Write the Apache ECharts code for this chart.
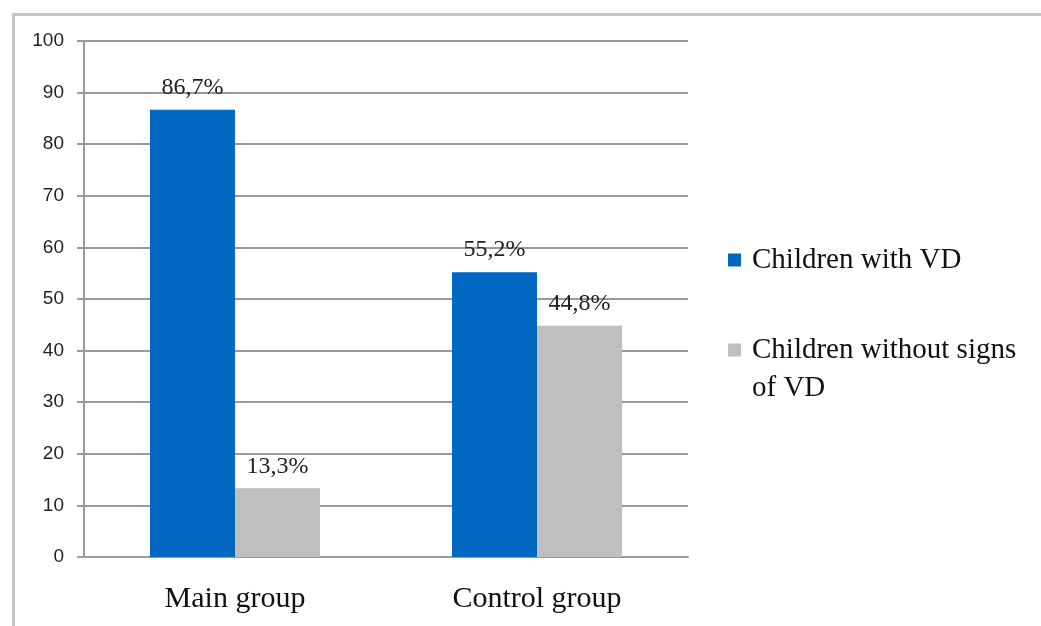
<!DOCTYPE html>
<html>
<head>
<meta charset="utf-8">
<script src="https://cdn.jsdelivr.net/npm/echarts@6/dist/echarts.min.js"></script>
<style>
  html, body { margin: 0; padding: 0; background: #fff; }
  #chart { width: 1041px; height: 626px; }
</style>
</head>
<body>
<div id="chart"></div>
<script>
const categories = ["Main group", "Control group"]
const withVD = [86.7, 55.2]
const withoutVD = [13.3, 44.8]
const seriesNames = ["Children with VD", "Children without signs of VD"]
const yTicks = { min: 0, max: 100, interval: 10 }

const myChart = echarts.init(document.getElementById("chart"))

// label like "86,7%" (comma decimal as in the picture)
const pct = (p) => String(p.value).replace(".", ",") + "%"

const serif = "Liberation Serif"

let option = {
  animation: false,
  graphic: [
    {
      type: "rect",
      left: 11,
      top: 12,
      shape: { width: 1100, height: 700 },
      style: { fill: "none", stroke: "#c4c4c4", lineWidth: 3 },
      silent: true
    }
  ],
  grid: {
    left: 84,
    right: 353,
    top: 41,
    bottom: 69
  },
  legend: [
    {
      orient: "vertical",
      left: 728,
      top: 241,
      padding: 0,
      itemWidth: 13,
      itemHeight: 13,
      icon: "rect",
      data: [seriesNames[0]],
      textStyle: {
        fontFamily: serif,
        fontSize: 29,
        color: "#111",
        lineHeight: 38,
        padding: [0, 0, 0, 6]
      }
    },
    {
      orient: "vertical",
      left: 728,
      top: 293,
      padding: 0,
      itemWidth: 13,
      itemHeight: 13,
      icon: "rect",
      data: [seriesNames[1]],
      // empty first line so the icon sits beside the first real line
      formatter: () => " \nChildren without signs\nof VD",
      textStyle: {
        fontFamily: serif,
        fontSize: 29,
        color: "#111",
        lineHeight: 38,
        padding: [0, 0, 0, 6]
      }
    }
  ],
  xAxis: {
    type: "category",
    data: categories,
    axisLine: { lineStyle: { color: "#9a9a9a", width: 2 } },
    axisTick: { length: 6, lineStyle: { color: "#9a9a9a", width: 2 } },
    axisLabel: {
      fontFamily: serif,
      fontSize: 30,
      color: "#111",
      margin: 27
    }
  },
  yAxis: {
    type: "value",
    min: yTicks.min,
    max: yTicks.max,
    interval: yTicks.interval,
    axisLine: { show: true, lineStyle: { color: "#9a9a9a", width: 2 } },
    axisTick: { show: true, length: 7, lineStyle: { color: "#9a9a9a", width: 2 } },
    splitLine: { lineStyle: { color: "#9a9a9a", width: 2 } },
    axisLabel: {
      fontFamily: "Liberation Sans",
      fontSize: 19,
      color: "#222",
      margin: 20
    }
  },
  series: [
    {
      name: seriesNames[0],
      type: "bar",
      data: withVD,
      barWidth: 85,
      barGap: "0%",
      itemStyle: { color: "#0068c0" },
      label: {
        show: true,
        position: "top",
        distance: 10,
        formatter: pct,
        fontFamily: serif,
        fontSize: 24,
        color: "#222"
      }
    },
    {
      name: seriesNames[1],
      type: "bar",
      data: withoutVD,
      barWidth: 85,
      barGap: "0%",
      itemStyle: { color: "#bfbfbf" },
      label: {
        show: true,
        position: "top",
        distance: 10,
        formatter: pct,
        fontFamily: serif,
        fontSize: 24,
        color: "#222"
      }
    }
  ]
}

myChart.setOption(option)
window.addEventListener("resize", function () {
  myChart.resize()
})
</script>
</body>
</html>
